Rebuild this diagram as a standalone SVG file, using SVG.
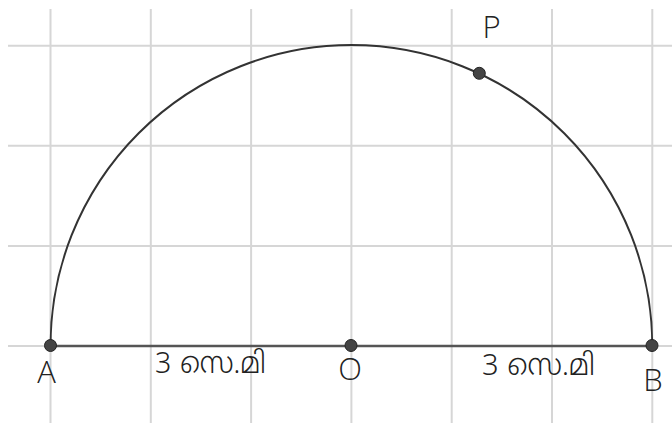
<svg xmlns="http://www.w3.org/2000/svg" width="672" height="423" viewBox="0 0 672 423">
<style>
.grid{stroke:#d6d6d6;stroke-width:2;fill:none}
.arc{stroke:#333;stroke-width:2;fill:none}
.seg{stroke:#555;stroke-width:2.5;fill:none}
.pt{fill:#444;stroke:#222;stroke-width:1}
.lbl{font-family:"Open Sans","DejaVu Sans",sans-serif;font-size:31px;fill:#222;text-anchor:middle;font-weight:300}
.ml{font-family:"Noto Sans Malayalam","Open Sans","Noto Sans",sans-serif;font-size:30px;fill:#222;font-weight:300}
</style>
<rect width="672" height="423" fill="#fff"/>
<g id="grid" class="grid">
<line x1="50.5" y1="9" x2="50.5" y2="423"/>
<line x1="150.8" y1="9" x2="150.8" y2="423"/>
<line x1="251.1" y1="9" x2="251.1" y2="423"/>
<line x1="351.4" y1="9" x2="351.4" y2="423"/>
<line x1="451.7" y1="9" x2="451.7" y2="423"/>
<line x1="552" y1="9" x2="552" y2="423"/>
<line x1="652.3" y1="9" x2="652.3" y2="423"/>
<line x1="8" y1="45.7" x2="672" y2="45.7"/>
<line x1="8" y1="145.8" x2="672" y2="145.8"/>
<line x1="8" y1="245.9" x2="672" y2="245.9"/>
<line x1="8" y1="346" x2="672" y2="346"/>
</g>
<g id="connectors">
<path class="arc" d="M50.5 346 A300.9 300.9 0 0 1 652.3 346"/>
<line class="seg" x1="50.5" y1="346" x2="652.3" y2="346"/>
</g>
<g id="A"><circle class="pt" cx="50.5" cy="345.5" r="6"/><text class="lbl" x="46.5" y="383">A</text></g>
<g id="O"><circle class="pt" cx="351" cy="345.5" r="6"/><text class="lbl" x="350" y="380">O</text></g>
<g id="B"><circle class="pt" cx="652" cy="345.5" r="6"/><text class="lbl" x="653" y="391">B</text></g>
<g id="P"><circle class="pt" cx="479.3" cy="73.3" r="6"/><text class="lbl" x="491.5" y="37.5">P</text></g>
<g id="len1"><text class="ml" x="155" y="373" textLength="111" lengthAdjust="spacingAndGlyphs">3 സെ.മി</text></g>
<g id="len2"><text class="ml" x="482" y="375" textLength="113" lengthAdjust="spacingAndGlyphs">3 സെ.മി</text></g>
</svg>
